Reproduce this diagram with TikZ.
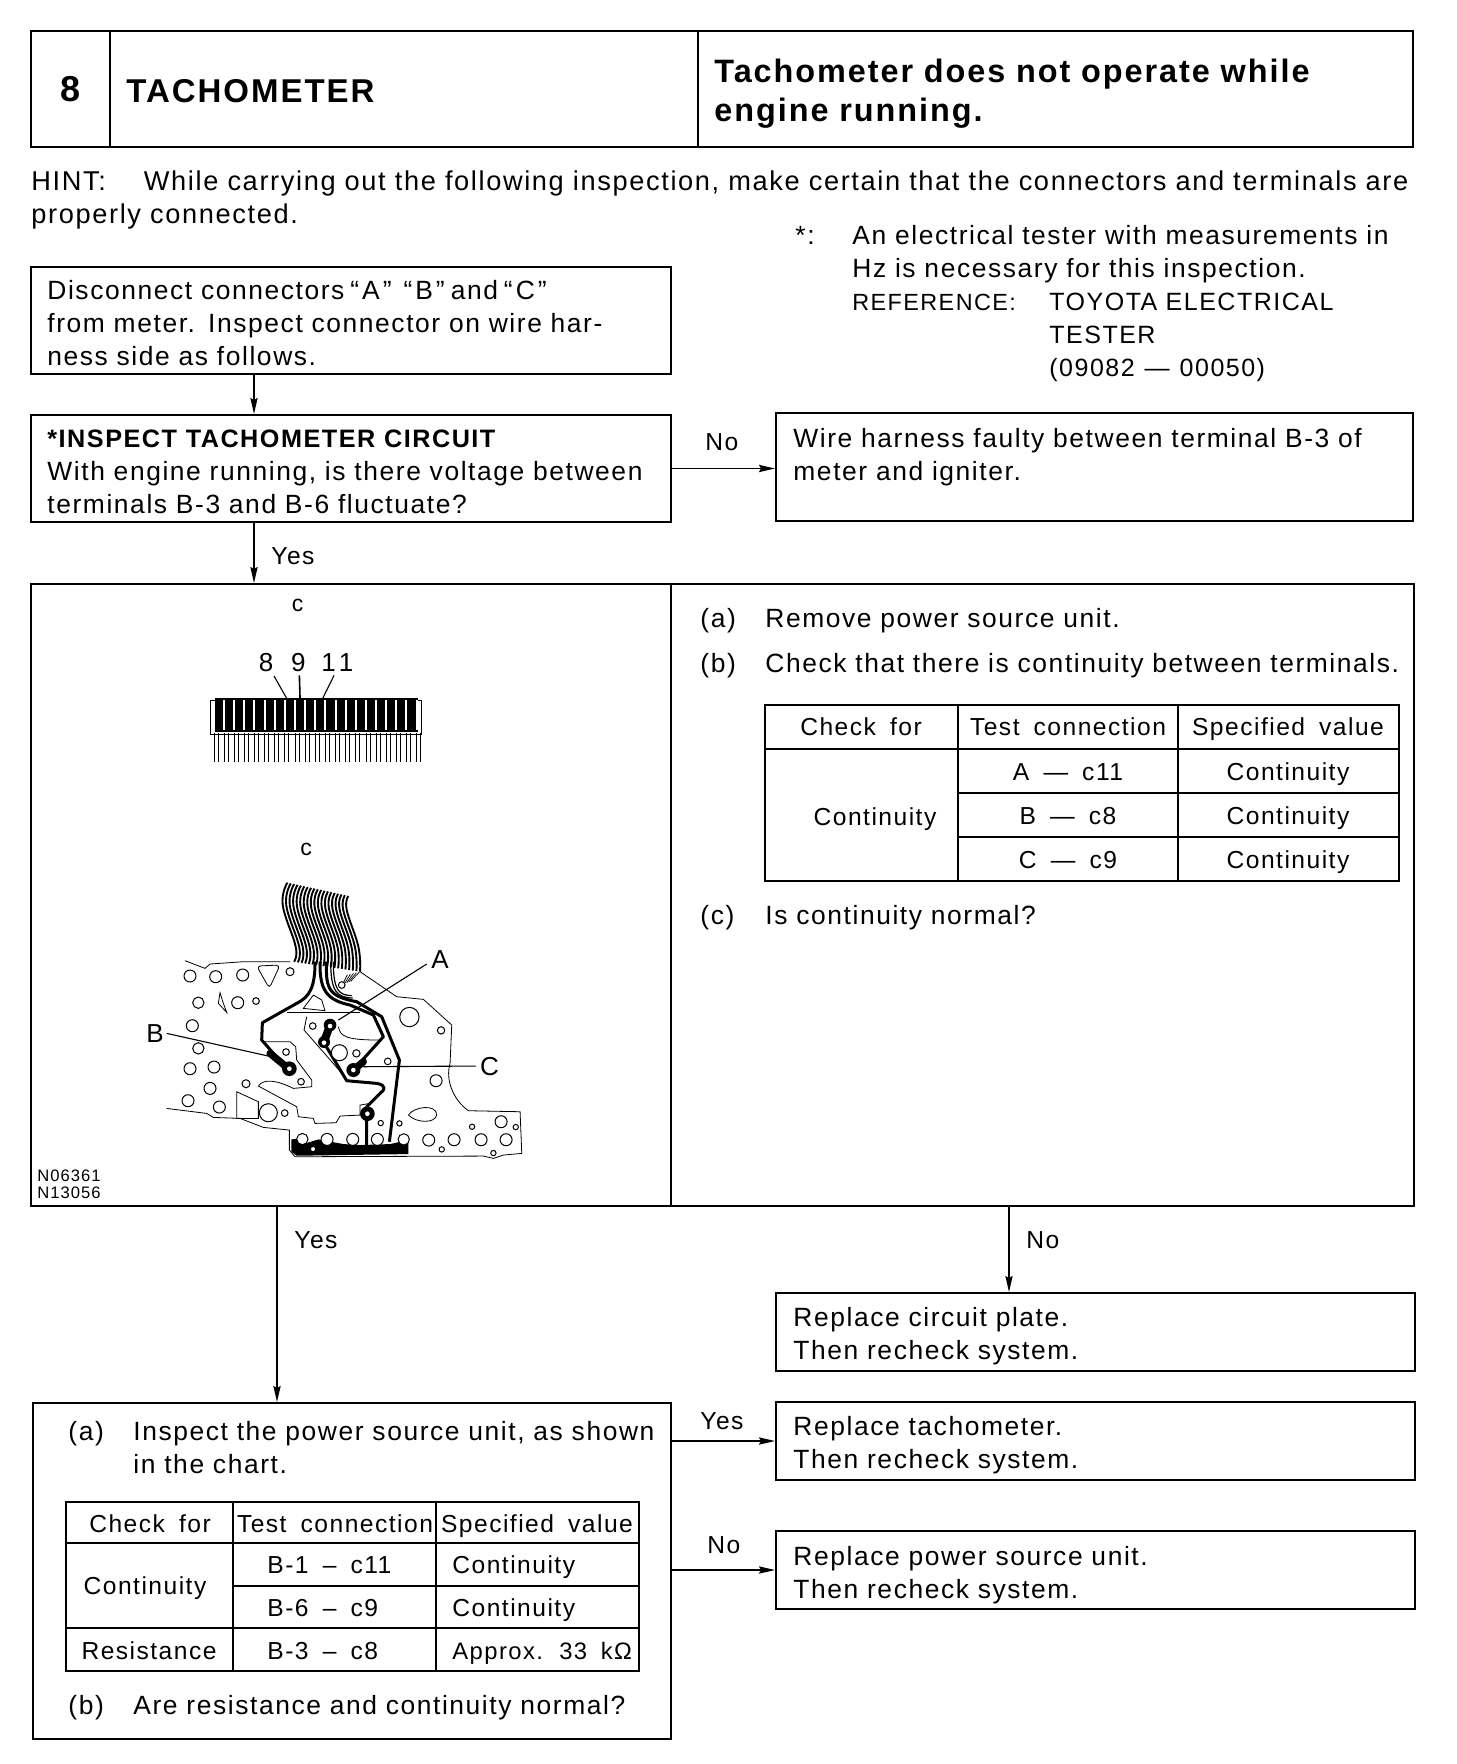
\documentclass[tikz,border=0pt]{standalone}
\usepackage{fontspec}
\setmainfont{Liberation Sans}[LetterSpace=6,WordSpace=1.7]
\usetikzlibrary{arrows.meta,positioning}
\newcommand{\qt}[1]{\hspace{3pt}“\hspace{1.5pt}#1\hspace{1.5pt}”\hspace{3pt}}
\tikzset{>={Stealth[length=8pt,width=3.6pt,inset=1pt]}}
\tikzset{
  boxline/.style={draw,line width=1pt,inner sep=0pt},
  body/.style={inner sep=0pt,yshift=0.4pt,anchor=base west,align=left,text width=340pt,font={\fontsize{13.2pt}{16.5pt}\selectfont}},
  cell/.style={inner sep=0pt,yshift=0.6pt,anchor=base,font={\fontsize{12.3pt}{16.5pt}\selectfont}},
  cellw/.style={cell,anchor=base west},
  flow/.style={->,line width=0.8pt},
  grid/.style={line width=0.7pt},
  frame/.style={line width=1.3pt},
  hole/.style={draw,fill=white,line width=0.5pt},
  outline/.style={line width=0.4pt},
  track/.style={line width=1.5pt,line join=round},
  leader/.style={line width=0.55pt},
  ribbon/.style={line width=0.95pt},
}
\begin{document}
\begin{tikzpicture}[x=0.5pt,y=-0.5pt]
\useasboundingbox (0,0) rectangle (1456,1764);

% ===== header strip =====
\node[boxline,minimum width=39.5pt,minimum height=58pt] (hdrnum) at (70.5,89) {};
\node[boxline,minimum width=294pt,minimum height=58pt] (hdrname) at (404,89) {};
\node[boxline,minimum width=357.5pt,minimum height=58pt] (hdrfault) at (1055.5,89) {};
\node[font={\bfseries\fontsize{18pt}{20pt}\selectfont}] (numtxt) at (hdrnum.center) {8};
\node[body,font={\bfseries\fontsize{16.5pt}{20pt}\selectfont}] (nametxt) at (126,103) {TACHOMETER};
\node[body,font={\bfseries\fontsize{16.2pt}{19.5pt}\selectfont},text width=340pt] (faulttxt) at (714,83) {Tachometer does not operate while\\engine running.};

% ===== hint and reference =====
\node[body,text width=700pt,font={\fontsize{13.6pt}{16.5pt}\selectfont}] (hinttxt) at (31,191) {HINT:\hspace{19pt}While carrying out the following inspection, make certain that the connectors and terminals are\\properly connected.};
\node[body,text width=30pt] (startxt) at (795,245) {*:};
\node[body,text width=300pt] (testertxt) at (852,245) {An electrical tester with measurements in\\Hz is necessary for this inspection.\\{\fontsize{11.7pt}{16.5pt}\selectfont REFERENCE:}};
\node[body,text width=200pt,font={\fontsize{12.5pt}{16.5pt}\selectfont}] (toyotatxt) at (1049,311) {TOYOTA ELECTRICAL\\TESTER\\(09082\hspace{5pt}---\hspace{5pt}00050)};

% ===== first steps =====
\node[boxline,minimum width=320pt,minimum height=53.5pt] (boxdisc) at (351,320.5) {};
\node[body] (disctxt) at (47,300) {Disconnect connectors\qt{A}\qt{B}and\qt{C}\\from meter. Inspect connector on wire har-\\ness side as follows.};
\node[boxline,minimum width=320pt,minimum height=53.5pt] (boxinsp) at (351,468.5) {};
\node[body] (insptxt) at (47,448) {{\fontsize{12.6pt}{16.5pt}\selectfont\bfseries *INSPECT TACHOMETER CIRCUIT}\\With engine running, is there voltage between\\terminals B-3 and B-6 fluctuate?};
\node[boxline,minimum width=318.5pt,minimum height=54pt] (boxwire) at (1094.5,467) {};
\node[body] (wiretxt) at (793,448) {Wire harness faulty between terminal B-3 of\\meter and igniter.};

% ===== big panel =====
\node[boxline,minimum width=691.5pt,minimum height=311pt] (panel) at (722.5,895) {};
\draw[line width=0.8pt] (panel.north -| 671,0) -- (panel.south -| 671,0);
\node[body,text width=30pt] (bodya) at (700,628) {(a)};
\node[body] (steprem) at (765,628) {Remove power source unit.};
\node[body,text width=30pt] (bodyb) at (700,673) {(b)};
\node[body] (stepchk) at (765,673) {Check that there is continuity between terminals.};
\node[body,text width=30pt] (bodyc) at (700,925) {(c)};
\node[body] (stepnorm) at (765,925) {Is continuity normal?};

% table of the panel
\draw[frame] (765,705) rectangle (1399,881);
\draw[grid] (958,705) -- (958,881);
\draw[grid] (1178,705) -- (1178,881);
\draw[grid] (765,749) -- (1399,749);
\draw[grid] (958,793) -- (1399,793);
\draw[grid] (958,837) -- (1399,837);
\node[cell] (ca) at (861,737) {Check for};
\node[cell] (cb) at (1068,737) {Test connection};
\node[cell] (cc) at (1288,737) {Specified value};
\node[cell] (cd) at (875,827) {Continuity};
\node[cell] (ce) at (1068,782) {A --- c11};
\node[cell] (cf) at (1068,826) {B --- c8};
\node[cell] (cg) at (1068,870) {C --- c9};
\node[cell] (ch) at (1288,782) {Continuity};
\node[cell] (ci) at (1288,826) {Continuity};
\node[cell] (cj) at (1288,870) {Continuity};

% ===== connector end view =====
\begin{scope}[shift={(130,590)},x=0.1667pt,y=-0.1667pt]
  \node[font=\fontsize{11.5pt}{12pt}\selectfont] (conc) at (503,45) {c};
  \node[font=\fontsize{13pt}{14pt}\selectfont] (pin8) at (408,217) {8};
  \node[font=\fontsize{13pt}{14pt}\selectfont] (pin9) at (505,219) {9};
  \node[font=\fontsize{13pt}{14pt}\selectfont] (pin11) at (622,217) {1\hspace{1.5pt}1};
  \draw[line width=0.4pt] (240,330) rectangle (875,433);
  \fill (255,325) rectangle (865,425);
  \foreach \i in {0,...,19}
    \fill[white] ({279+30.4*\i},330) rectangle ({285+30.4*\i},420);
  \foreach \i in {0,...,20} {
    \draw[line width=0.5pt] ({252+30.4*\i},428) -- ({252+30.4*\i},516);
    \draw[line width=0.5pt] ({264+30.4*\i},428) -- ({264+30.4*\i},516);
  }
  \coordinate (tip8) at (470,325);
  \coordinate (tip9) at (510,325);
  \coordinate (tip11) at (578,325);
  \draw[leader] (432,258) -- (tip8);
  \draw[leader,line width=0.8pt] (508,256) -- (tip9);
  \draw[leader] (612,256) -- (tip11);
\end{scope}

% ===== circuit plate =====
\begin{scope}[shift={(130,840)},x=0.1667pt,y=-0.1667pt]
  \node[font=\fontsize{11.5pt}{12pt}\selectfont] (platec) at (528,28) {c};
  % plate outline
  \draw[outline] (165,362) -- (225,385) -- (240,372) -- (340,365) -- (480,365);
  \draw[outline] (690,395) -- (800,470) -- (880,478) -- (965,555) -- (960,670) .. controls (945,720) and (970,780) .. (1015,812) -- (1170,815) -- (1175,940) -- (1120,945) -- (1090,955) -- (1060,948) -- (495,950) -- (478,930) -- (478,870) -- (400,862) -- (330,835) -- (250,832) -- (230,820) -- (110,805);
  \draw[outline] (400,605) -- (480,605) -- (497,620) -- (500,660) -- (545,720) -- (545,740) -- (490,745) .. controls (440,720) and (400,715) .. (385,738) -- (500,800) -- (505,830) -- (550,835) -- (555,850) -- (618,848) -- (630,828) -- (690,825) -- (690,795) -- (720,790);
  \draw[outline] (470,517) -- (690,517);
  \draw[outline] (530,530) -- (522,570) -- (640,705);
  \draw[outline] (625,560) .. controls (630,590) and (650,600) .. (750,600);
  \draw[outline,rounded corners=2pt] (380,378) -- (450,375) -- (418,445) -- cycle;
  \draw[outline] (520,505) -- (550,465) -- (575,480) -- (585,512) -- cycle;
  \draw[outline] (270,458) -- (265,490) -- (290,517) -- (280,490) -- cycle;
  \draw[outline] (320,755) -- (385,785) -- (385,835) -- (320,835) -- cycle;
  \draw[outline] (835,825) .. controls (850,800) and (920,790) .. (920,825) .. controls (915,850) and (860,850) .. (835,825);
  % ribbon
  \foreach \i in {0,...,18} {
    \pgfmathsetmacro{\t}{\i/18}
    \draw[ribbon] plot[smooth,tension=0.7] coordinates {({472+183*\t},{128+40*\t}) ({458+192*\t},{195+15*\t}) ({497+188*\t},{320}) ({492+198*\t},{365+30*\t})};
  }
  \foreach \i in {0,...,4}
    \draw[line width=0.35pt] ({688-9*\i},{396+2*\i}) -- ({662-6*\i},{424+2*\i});
  \draw[line width=0.6pt] (610,365) .. controls (610,450) and (625,465) .. (665,467);
  \draw[line width=0.6pt] (602,365) .. controls (602,455) and (620,472) .. (668,474);
  % tracks
  \draw[track] (555,365) .. controls (555,440) and (540,470) .. (500,490) -- (397,548) -- (395,600) -- (470,685);
  \draw[track] (570,365) .. controls (568,450) and (590,480) .. (660,495) -- (730,525) -- (760,590) -- (670,690);
  \draw[track] (590,365) .. controls (585,450) and (600,470) .. (680,485) -- (755,530) -- (808,660) -- (778,905);
  \draw[track] (600,555) -- (580,605) -- (650,722) -- (740,730) .. controls (770,735) and (765,750) .. (750,760) -- (710,800) -- (710,915);
  \draw[line width=3.6pt,line cap=round] (420,640) -- (478,688);
  \draw[line width=3.6pt,line cap=round] (670,690) -- (700,665);
  \draw[line width=4pt,line cap=round] (600,555) -- (582,605);
  % bottom bus
  \fill (484,898) -- (510,895) -- (520,912) -- (565,898) -- (640,912) -- (690,915) -- (780,912) -- (835,900) -- (835,942) -- (500,947) -- (484,935) -- cycle;
  % solder pads
  \foreach \px/\py/\pr in {478/686/22,600/555/19,582/606/18,670/690/21,712/821/22}
    \fill (\px,\py) circle[radius=\pr];
  \foreach \px/\py in {478/686,600/558,582/608,670/690,712/821}
    \fill[white] (\px,\py) circle[radius=7];
  % holes
  \foreach \cx/\cy/\cr in {180/408/18,257/410/18,338/405/18,205/488/17,323/488/18,378/483/10,187/557/18,205/625/17,180/686/18,252/681/18,240/745/18,348/731/12,174/782/18,268/801/18,415/818/27,464/819/10,480/395/12,635/435/10,548/558/10,468/636/10,513/725/10,628/638/24,679/640/11,773/664/10,838/531/29,933/571/11,918/722/18,752/849/8,808/850/8,1113/845/18,1157/861/8,1026/860/8,517/897/17,591/898/18,668/898/18,742/898/18,821/898/17,896/900/18,972/899/18,1053/899/18,1128/899/18,935/928/8,1090/939/8,549/927/8}
    \draw[hole] (\cx,\cy) circle[radius=\cr];
  % callouts
  \node[font=\fontsize{13pt}{14pt}\selectfont] (lbla) at (930,360) {A};
  \node[font=\fontsize{13pt}{14pt}\selectfont] (lblb) at (75,580) {B};
  \node[font=\fontsize{13pt}{14pt}\selectfont] (lblc) at (1078,678) {C};
  \coordinate (pada) at (625,540);
  \coordinate (padb) at (415,648);
  \coordinate (padc) at (700,680);
  \draw[leader] (890,372) -- (pada);
  \draw[leader] (110,580) -- (padb);
  \draw[leader] (1037,678) -- (padc);
\end{scope}
\node[inner sep=0pt,anchor=base west,align=left,text width=60pt,font={\fontsize{8.3pt}{8.5pt}\selectfont}] (partno) at (37,1181) {N06361\\N13056};

% ===== below the panel =====
\node[boxline,minimum width=319.5pt,minimum height=39pt] (boxplate) at (1095.5,1332) {};
\node[body] (platetxt) at (793,1327) {Replace circuit plate.\\Then recheck system.};
\node[boxline,minimum width=319.5pt,minimum height=39pt] (boxtach) at (1095.5,1441) {};
\node[body] (tachtxt) at (793,1436) {Replace tachometer.\\Then recheck system.};
\node[boxline,minimum width=319.5pt,minimum height=39pt] (boxunit) at (1095.5,1570) {};
\node[body] (unittxt) at (793,1566) {Replace power source unit.\\Then recheck system.};

\node[boxline,minimum width=319pt,minimum height=168pt] (boxlast) at (352,1571) {};
\node[body,text width=30pt] (lasta) at (68,1441) {(a)};
\node[body] (lasttxt) at (133,1441) {Inspect the power source unit, as shown\\in the chart.};
\node[body,text width=30pt] (lastb) at (68,1715) {(b)};
\node[body] (lastq) at (133,1715) {Are resistance and continuity normal?};

% table of the last box
\draw[frame] (66,1502) rectangle (639,1671);
\draw[grid] (233,1502) -- (233,1671);
\draw[grid] (436,1502) -- (436,1671);
\draw[frame] (66,1543) -- (639,1543);
\draw[grid] (233,1586) -- (639,1586);
\draw[grid] (66,1628) -- (639,1628);
\node[cell] (la) at (150,1534) {Check for};
\node[cell] (lb) at (335,1534) {Test connection};
\node[cell] (lc) at (537,1534) {Specified value};
\node[cell] (ld) at (145,1596) {Continuity};
\node[cell] (le) at (149,1661) {Resistance};
\node[cellw] (lf) at (267,1575) {B-1 -- c11};
\node[cellw] (lg) at (267,1618) {B-6 -- c9};
\node[cellw] (lh) at (267,1661) {B-3 -- c8};
\node[cellw] (li) at (452,1575) {Continuity};
\node[cellw] (lj) at (452,1618) {Continuity};
\node[cellw,font=\fontsize{11.9pt}{16.5pt}\selectfont] (lk) at (452,1661) {Approx. 33 kΩ};

% ===== connectors =====
\coordinate (drop1) at (254,0);
\coordinate (drop2) at (277,0);
\coordinate (drop3) at (1009,0);
\draw[flow] (drop1 |- boxdisc.south) -- (drop1 |- boxinsp.north);
\draw[flow] (drop1 |- boxinsp.south) -- (drop1 |- panel.north);
\draw[flow] (boxinsp.east) -- (boxinsp.east -| boxwire.west);
\draw[flow] (drop2 |- panel.south) -- (drop2 |- boxlast.north);
\draw[flow] (drop3 |- panel.south) -- (drop3 |- boxplate.north);
\draw[flow] (boxlast.east |- boxtach.west) -- (boxtach.west);
\draw[flow] (boxlast.east |- boxunit.west) -- (boxunit.west);
\node[cellw] (lblno1) at (705,452) {No};
\node[cellw] (lblyes1) at (271,566) {Yes};
\node[cellw] (lblyes2) at (294,1250) {Yes};
\node[cellw] (lblno2) at (1026,1250) {No};
\node[cellw] (lblyes3) at (700,1431) {Yes};
\node[cellw] (lblno3) at (707,1555) {No};

\end{tikzpicture}
\end{document}
